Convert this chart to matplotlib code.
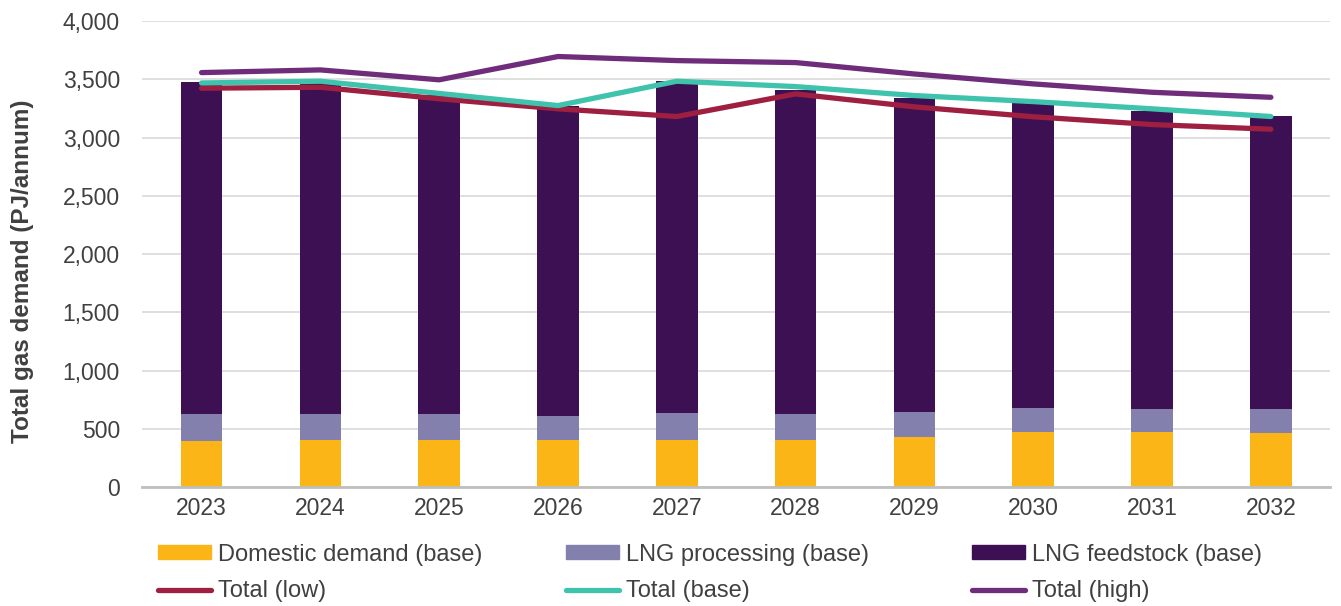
import numpy as np
import matplotlib.pyplot as plt
from matplotlib.patches import Patch
from matplotlib.lines import Line2D

plt.rcParams['font.family'] = ['Liberation Sans', 'DejaVu Sans']

years = ['2023', '2024', '2025', '2026', '2027', '2028', '2029', '2030', '2031', '2032']
domestic = [397, 409, 409, 409, 409, 409, 429, 474, 474, 463]
processing_top = [626, 626, 626, 615, 637, 626, 649, 683, 672, 672]
bar_total = [3476, 3480, 3370, 3270, 3485, 3411, 3345, 3300, 3227, 3188]
total_low = [3425, 3433, 3334, 3248, 3182, 3376, 3265, 3180, 3113, 3073]
total_base = [3470, 3485, 3380, 3276, 3485, 3439, 3362, 3310, 3248, 3182]
total_high = [3559, 3582, 3497, 3697, 3662, 3645, 3547, 3462, 3390, 3347]

processing = np.array(processing_top) - np.array(domestic)
feedstock = np.array(bar_total) - np.array(processing_top)

c_dom = '#FBB516'
c_proc = '#8480AE'
c_feed = '#3C1053'
c_low = '#9E1F40'
c_base = '#40C3AC'
c_high = '#6E2C7B'
txt = '#404040'

fig = plt.figure(figsize=(13.41, 6.06), dpi=100)
ax = fig.add_axes([0.106, 0.196, 0.886, 0.769])

x = np.arange(len(years))
w = 0.35
ax.bar(x, domestic, w, color=c_dom, zorder=2)
ax.bar(x, processing, w, bottom=domestic, color=c_proc, zorder=2)
ax.bar(x, feedstock, w, bottom=processing_top, color=c_feed, zorder=2)

lw = 3.8
ax.plot(x, total_low, color=c_low, lw=lw, solid_capstyle='round', zorder=3)
ax.plot(x, total_base, color=c_base, lw=lw, solid_capstyle='round', zorder=4)
ax.plot(x, total_high, color=c_high, lw=lw, solid_capstyle='round', zorder=5)

ax.set_xlim(-0.5, len(years) - 0.5)
ax.set_ylim(0, 4000)
ax.set_yticks(range(0, 4001, 500))
ax.set_yticklabels([f'{v:,}' for v in range(0, 4001, 500)])
ax.set_xticks(x)
ax.set_xticklabels(years)
ax.tick_params(axis='both', length=0, labelsize=16.5, colors=txt)
ax.tick_params(axis='y', pad=16)
ax.tick_params(axis='x', pad=7)
ax.yaxis.grid(True, color='#D9D9D9', lw=1.2, zorder=0)
for s in ['top', 'right', 'left']:
    ax.spines[s].set_visible(False)
ax.spines['bottom'].set_color('#BFBFBF')
ax.spines['bottom'].set_linewidth(2)
ax.spines['bottom'].set_zorder(6)
ax.set_ylabel('Total gas demand (PJ/annum)', fontsize=17.5, fontweight='bold',
              color=txt)
ax.yaxis.set_label_coords(-0.091, 0.463)

cols = [
    ([Patch(color=c_dom), Line2D([], [], color=c_low, lw=lw, solid_capstyle='round')],
     ['Domestic demand (base)', 'Total (low)'], 0.1175),
    ([Patch(color=c_proc), Line2D([], [], color=c_base, lw=lw, solid_capstyle='round')],
     ['LNG processing (base)', 'Total (base)'], 0.422),
    ([Patch(color=c_feed), Line2D([], [], color=c_high, lw=lw, solid_capstyle='round')],
     ['LNG feedstock (base)', 'Total (high)'], 0.725),
]
for handles, labels, xpos in cols:
    leg = fig.legend(handles, labels, loc='upper left', bbox_to_anchor=(xpos, 0.103),
                     frameon=False, fontsize=17, handlelength=2.25, handletextpad=0.3,
                     handleheight=0.5, labelspacing=0.62, borderaxespad=0, borderpad=0)
    for t in leg.get_texts():
        t.set_color(txt)

fig.savefig('out.png', dpi=100)
